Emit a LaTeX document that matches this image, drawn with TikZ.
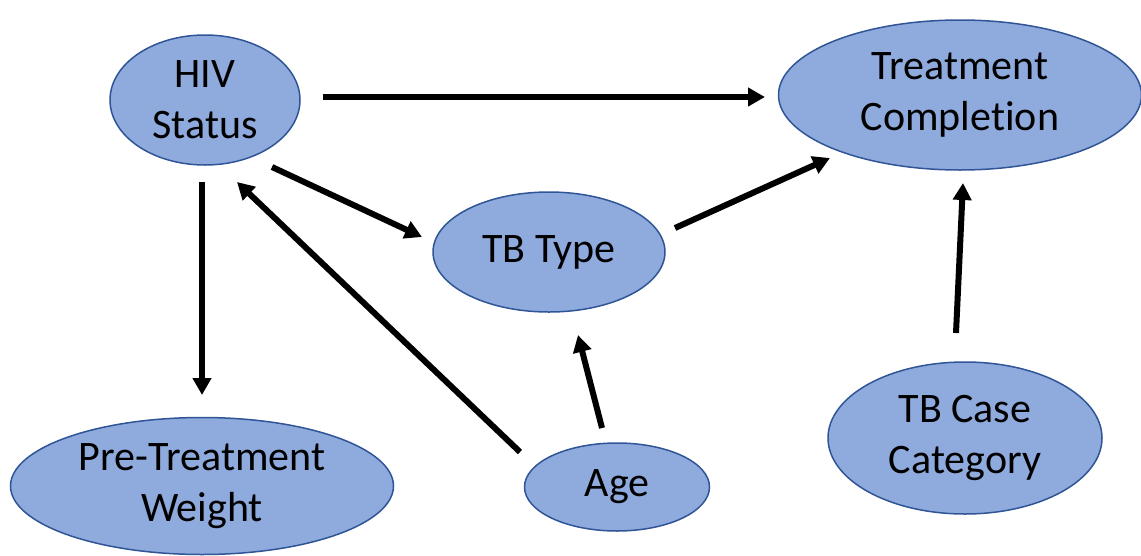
\documentclass[tikz,border=0pt]{standalone}
\usepackage{fontspec}
\setmainfont{Carlito}[Ligatures=NoCommon,RawFeature={-liga;-clig;-dlig}]
\usetikzlibrary{arrows.meta,shapes.geometric}
\definecolor{nodefill}{HTML}{8FAADC}
\definecolor{nodeline}{HTML}{2F5597}
\tikzset{
  ell/.style={ellipse, draw=nodeline, fill=nodefill, line width=1.5pt, inner sep=0pt, align=center,
    font=\fontsize{42}{51}\selectfont},
  arr/.style={line width=6pt, -{Triangle[length=17pt,width=18pt]}}
}
\begin{document}
\begin{tikzpicture}[x=1pt,y=-1pt]
\useasboundingbox (0,0) rectangle (1141,555);
\node[ell, minimum width=190pt, minimum height=130pt] (hiv) at (205,100) {HIV\\Status};
\node[ell, minimum width=363pt, minimum height=150pt] (tc) at (960,95) {Treatment\\Completion};
\node[ell, minimum width=232pt, minimum height=120pt] (tbt) at (549,252) {TB Type};
\node[ell, minimum width=383pt, minimum height=137pt] (ptw) at (202,486) {Pre-Treatment\\Weight};
\node[ell, minimum width=185pt, minimum height=88pt] (age) at (617,487) {Age};
\node[ell, minimum width=274pt, minimum height=152pt] (tbc) at (965,438) {TB Case\\Category};
\draw[arr] ([shift={(118,-3)}]hiv.center) -- ([shift={(-195,2)}]tc.center);
\draw[arr] ([shift={(67,67)}]hiv.center) -- ([shift={(-127,-15)}]tbt.center);
\draw[arr] ([shift={(-3,82)}]hiv.center) -- ([shift={(0,-91)}]ptw.center);
\draw[arr] ([shift={(-97,-35)}]age.center) -- ([shift={(32,82)}]hiv.center);
\draw[arr] ([shift={(-15,-59)}]age.center) -- ([shift={(29,83)}]tbt.center);
\draw[arr] ([shift={(126,-24)}]tbt.center) -- ([shift={(-130,63)}]tc.center);
\draw[arr] ([shift={(-9,-105)}]tbc.center) -- ([shift={(3,88)}]tc.center);
\end{tikzpicture}
\end{document}
